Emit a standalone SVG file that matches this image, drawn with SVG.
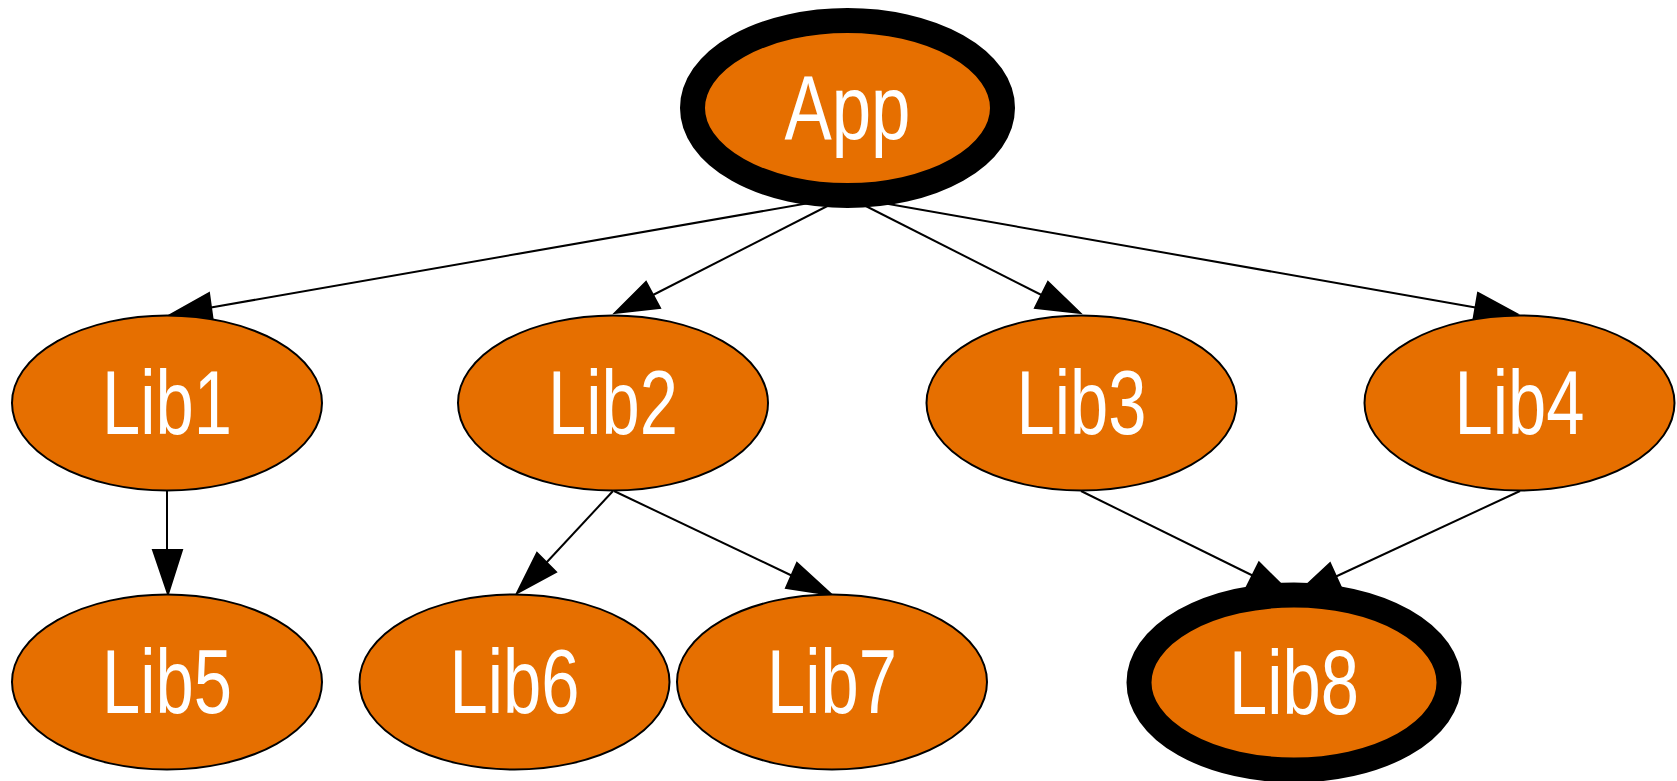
<svg xmlns="http://www.w3.org/2000/svg" width="1677" height="781" viewBox="0 0 1677 781">
<style>
.node ellipse{fill:#e66f00;stroke:#000;stroke-width:2}
.node.bold ellipse{stroke-width:25}
.node text{font-family:"Liberation Sans",Arial,sans-serif;font-size:90px;fill:#fff;text-anchor:middle}
.edges line{stroke:#000;stroke-width:2}
.edges polygon{fill:#000;stroke:#000;stroke-width:2}
</style>
<rect width="1677" height="781" fill="#fff"/>
<g id="edges" class="edges">
<line x1="852" y1="195.5" x2="211" y2="307.5"/>
<polygon points="209,293 170,315 213,322"/>
<line x1="848" y1="195.5" x2="653" y2="295"/>
<polygon points="646,282 615,313 660,308"/>
<line x1="845" y1="195.5" x2="1041.5" y2="295"/>
<polygon points="1048,282 1080,313 1035,308"/>
<line x1="843" y1="196" x2="1475.5" y2="307.5"/>
<polygon points="1478,293 1517,314 1473,322"/>
<line x1="167" y1="491" x2="167" y2="550"/>
<polygon points="153,550 168,594 182,550"/>
<line x1="613" y1="491" x2="546.5" y2="562.5"/>
<polygon points="537,553 517,593 556,572"/>
<line x1="614" y1="491" x2="791.5" y2="575.5"/>
<polygon points="797,563 832,595 786,588"/>
<line x1="1081" y1="491" x2="1252.5" y2="575.5"/>
<polygon points="1259,562.5 1292,595 1246,588.5"/>
<line x1="1520" y1="491" x2="1336" y2="576.5"/>
<polygon points="1330,563.3 1296,595 1342,589.7"/>
</g>
<g id="App" class="node bold"><ellipse cx="847.5" cy="108" rx="155" ry="87.5"/><text x="847.5" y="139" textLength="126" lengthAdjust="spacingAndGlyphs">App</text></g>
<g id="Lib1" class="node"><ellipse cx="167" cy="403" rx="155" ry="87.5"/><text x="167" y="434" textLength="130" lengthAdjust="spacingAndGlyphs">Lib1</text></g>
<g id="Lib2" class="node"><ellipse cx="613" cy="403" rx="155" ry="87.5"/><text x="613" y="434" textLength="130" lengthAdjust="spacingAndGlyphs">Lib2</text></g>
<g id="Lib3" class="node"><ellipse cx="1081.5" cy="403" rx="155" ry="87.5"/><text x="1081.5" y="434" textLength="130" lengthAdjust="spacingAndGlyphs">Lib3</text></g>
<g id="Lib4" class="node"><ellipse cx="1519.5" cy="403" rx="155" ry="87.5"/><text x="1519.5" y="434" textLength="130" lengthAdjust="spacingAndGlyphs">Lib4</text></g>
<g id="Lib5" class="node"><ellipse cx="167" cy="682" rx="155" ry="87.5"/><text x="167" y="713" textLength="130" lengthAdjust="spacingAndGlyphs">Lib5</text></g>
<g id="Lib6" class="node"><ellipse cx="514.5" cy="682" rx="155" ry="87.5"/><text x="514.5" y="713" textLength="130" lengthAdjust="spacingAndGlyphs">Lib6</text></g>
<g id="Lib7" class="node"><ellipse cx="832" cy="682" rx="155" ry="87.5"/><text x="832" y="713" textLength="130" lengthAdjust="spacingAndGlyphs">Lib7</text></g>
<g id="Lib8" class="node bold"><ellipse cx="1294" cy="682.5" rx="155" ry="87.5"/><text x="1294" y="713.5" textLength="130" lengthAdjust="spacingAndGlyphs">Lib8</text></g>
</svg>
